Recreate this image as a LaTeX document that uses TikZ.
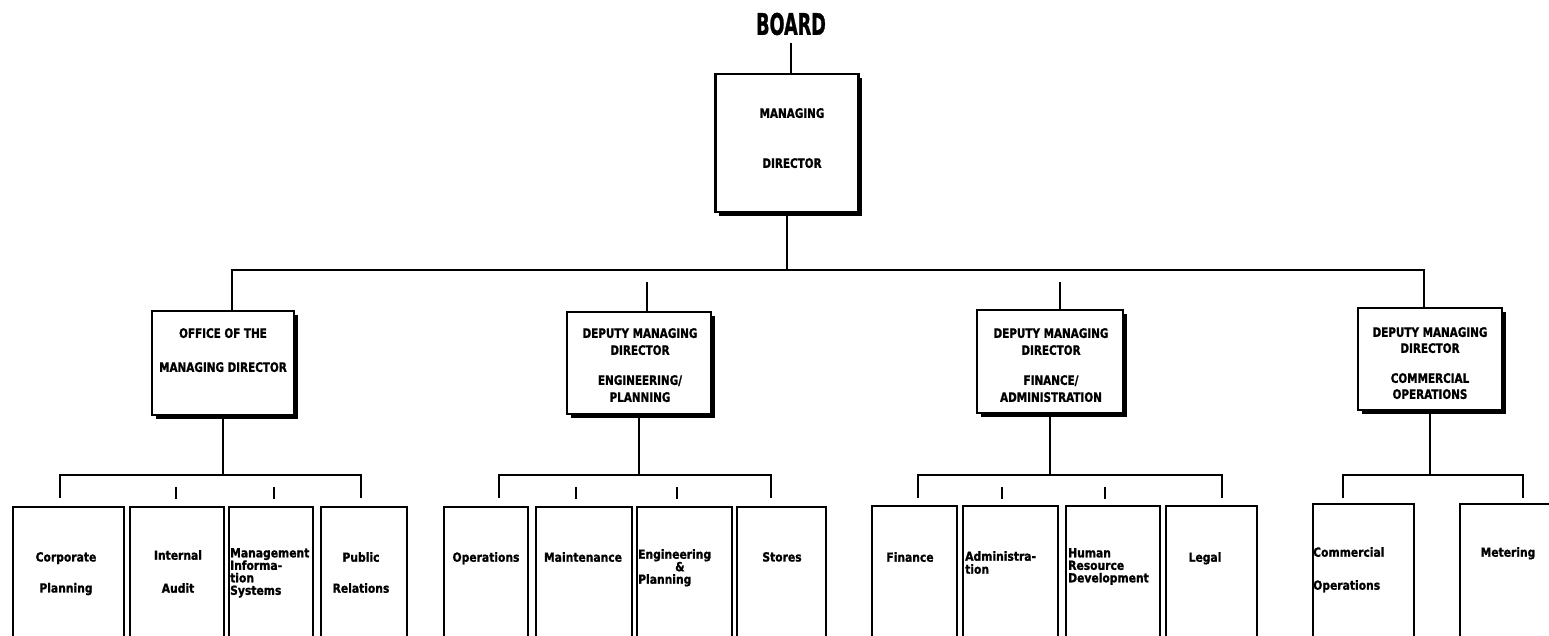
\documentclass[tikz,border=0pt]{standalone}
\usepackage{fontspec}
\setmainfont{DejaVu Sans}
\newfontfamily\headfont{DejaVu Sans Bold}[FakeStretch=0.8, FakeBold=1.2]
\newfontfamily\unitfont{DejaVu Sans Bold}[FakeStretch=0.86, FakeBold=1.2]
\usetikzlibrary{shadows}

\begin{document}
\begin{tikzpicture}[x=1pt,y=-1pt,
        upbox/.style={draw, line width=2.5pt, fill=white, inner sep=0pt,
            drop shadow={shadow xshift=3.5pt, shadow yshift=-4pt, fill=black, opacity=1}},
        unitbox/.style={draw, line width=2.5pt, inner sep=0pt, minimum height=140pt},
        link/.style={line width=1.8pt},
        head/.style={inner sep=0pt, anchor=north, align=center, font=\headfont\fontsize{13}{#1}\selectfont},
        head/.default=17,
        unit/.style={inner sep=0pt, anchor=north, font=\unitfont\fontsize{12.5}{#1}\selectfont},
        unit/.default=12.5]
        \useasboundingbox (0,0) rectangle (1549,635);
        \clip (0,0) rectangle (1549,635);

        % Board and managing director
        \node[inner sep=0pt, font=\headfont\fontsize{22}{22}\selectfont] (board) at (791,24) {\scalebox{1}[1.35]{BOARD}};
        \node[upbox, minimum width=143pt, minimum height=138pt] (md) at (787,143) {};
        \node[head=50] (md-t) at (792,108) {MANAGING\\DIRECTOR};
        \draw[link] ([yshift=-8pt]board.south) -- (board.south |- md.north);

        % Deputies
        \node[upbox, minimum width=142pt, minimum height=104pt] (off) at (223,363) {};
        \node[upbox, minimum width=144pt, minimum height=102pt] (eng) at (639,363) {};
        \node[upbox, minimum width=146pt, minimum height=103pt] (fin) at (1050,361.5) {};
        \node[upbox, minimum width=144pt, minimum height=102pt] (com) at (1430,359) {};
        \node[head=34] (off-t) at (223,328) {OFFICE OF THE\\MANAGING DIRECTOR};
        \node[head] (eng-t) at (640,328) {DEPUTY MANAGING\\DIRECTOR\\[13pt]ENGINEERING/\\PLANNING};
        \node[head] (fin-t) at (1051,328) {DEPUTY MANAGING\\DIRECTOR\\[13pt]FINANCE/\\ADMINISTRATION};
        \node[head=16] (com-t) at (1430,327) {DEPUTY MANAGING\\DIRECTOR\\[14pt]COMMERCIAL\\OPERATIONS};

        % Bus
        \coordinate (bus-l) at (232,270);
        \coordinate (bus-r) at (1424,270);
        \coordinate (eng-in) at (647,282);
        \coordinate (fin-in) at (1060,282);
        \draw[link] (md.south) -- (md.south |- bus-l);
        \draw[link] (bus-l |- off.north) -- (bus-l) -- (bus-r) -- (bus-r |- com.north);
        \draw[link] (eng-in) -- (eng-in |- eng.north);
        \draw[link] (fin-in) -- (fin-in |- fin.north);

        % Brackets
        \coordinate (g1-l) at (60,475);   \coordinate (g1-r) at (361,475);
        \coordinate (g2-l) at (499,475);  \coordinate (g2-r) at (771,475);
        \coordinate (g3-l) at (918,475);  \coordinate (g3-r) at (1222,475);
        \coordinate (g4-l) at (1343,475); \coordinate (g4-r) at (1523,475);
        \draw[link] (off.south) -- (off.south |- g1-l);
        \draw[link] (eng.south) -- (eng.south |- g2-l);
        \draw[link] (fin.south) -- (fin.south |- g3-l);
        \draw[link] (com.south) -- (com.south |- g4-l);
        \draw[link] (g1-l) ++(0,23) -- (g1-l) -- (g1-r) -- ++(0,23);
        \draw[link] (g2-l) ++(0,23) -- (g2-l) -- (g2-r) -- ++(0,23);
        \draw[link] (g3-l) ++(0,23) -- (g3-l) -- (g3-r) -- ++(0,23);
        \draw[link] (g4-l) ++(0,23) -- (g4-l) -- (g4-r) -- ++(0,23);
        \coordinate (t1) at (176,487);  \coordinate (t2) at (274,487);
        \coordinate (t3) at (576,487);  \coordinate (t4) at (677,487);
        \coordinate (t5) at (1002,487); \coordinate (t6) at (1105,487);
        \draw[link] (t1) -- ++(0,12);
        \draw[link] (t2) -- ++(0,12);
        \draw[link] (t3) -- ++(0,12);
        \draw[link] (t4) -- ++(0,12);
        \draw[link] (t5) -- ++(0,12);
        \draw[link] (t6) -- ++(0,12);

        % Units
        \node[unitbox, minimum width=111pt] (cp) at (68.5,577) {};
        \node[unitbox, minimum width=94pt] (ia) at (177,577) {};
        \node[unitbox, minimum width=84pt] (mis) at (271,577) {};
        \node[unitbox, minimum width=86pt] (pr) at (364,577) {};
        \node[unitbox, minimum width=84pt] (ops) at (486,577) {};
        \node[unitbox, minimum width=96pt] (mnt) at (584,577) {};
        \node[unitbox, minimum width=95pt] (ep) at (684.5,577) {};
        \node[unitbox, minimum width=89pt] (sto) at (781.5,577) {};
        \node[unitbox, minimum width=85pt] (fnc) at (914.5,576) {};
        \node[unitbox, minimum width=95pt] (adm) at (1010.5,576) {};
        \node[unitbox, minimum width=94pt] (hrd) at (1113,576) {};
        \node[unitbox, minimum width=91pt] (leg) at (1211.5,576) {};
        \node[unitbox, minimum width=101pt] (cop) at (1363.5,574) {};
        \node[unitbox, minimum width=110pt] (met) at (1515,574) {};

        \node[unit=31, align=center] (cp-t) at (66,552) {Corporate\\Planning};
        \node[unit=33, align=center] (ia-t) at (178,550) {Internal\\Audit};
        \node[unit, align=left, anchor=north west] (mis-t) at (230,548) {Management\\Informa-\\tion\\Systems};
        \node[unit=31, align=center] (pr-t) at (361,552) {Public\\Relations};
        \node[unit] (ops-t) at (486,552) {Operations};
        \node[unit] (mnt-t) at (583,552) {Maintenance};
        \node[unit, align=left, anchor=north west] (ep-t) at (638,549) {Engineering\\\hspace*{37pt}\&\\Planning};
        \node[unit] (sto-t) at (782,552) {Stores};
        \node[unit] (fnc-t) at (910,552) {Finance};
        \node[unit=13, align=left, anchor=north west] (adm-t) at (965,551) {Administra-\\tion};
        \node[unit, align=left, anchor=north west] (hrd-t) at (1068,548) {Human\\Resource\\Development};
        \node[unit] (leg-t) at (1205,552) {Legal};
        \node[unit=33, align=left, anchor=north west] (cop-t) at (1313,547) {Commercial\\Operations};
        \node[unit] (met-t) at (1508,547) {Metering};
    \end{tikzpicture}
\end{document}
